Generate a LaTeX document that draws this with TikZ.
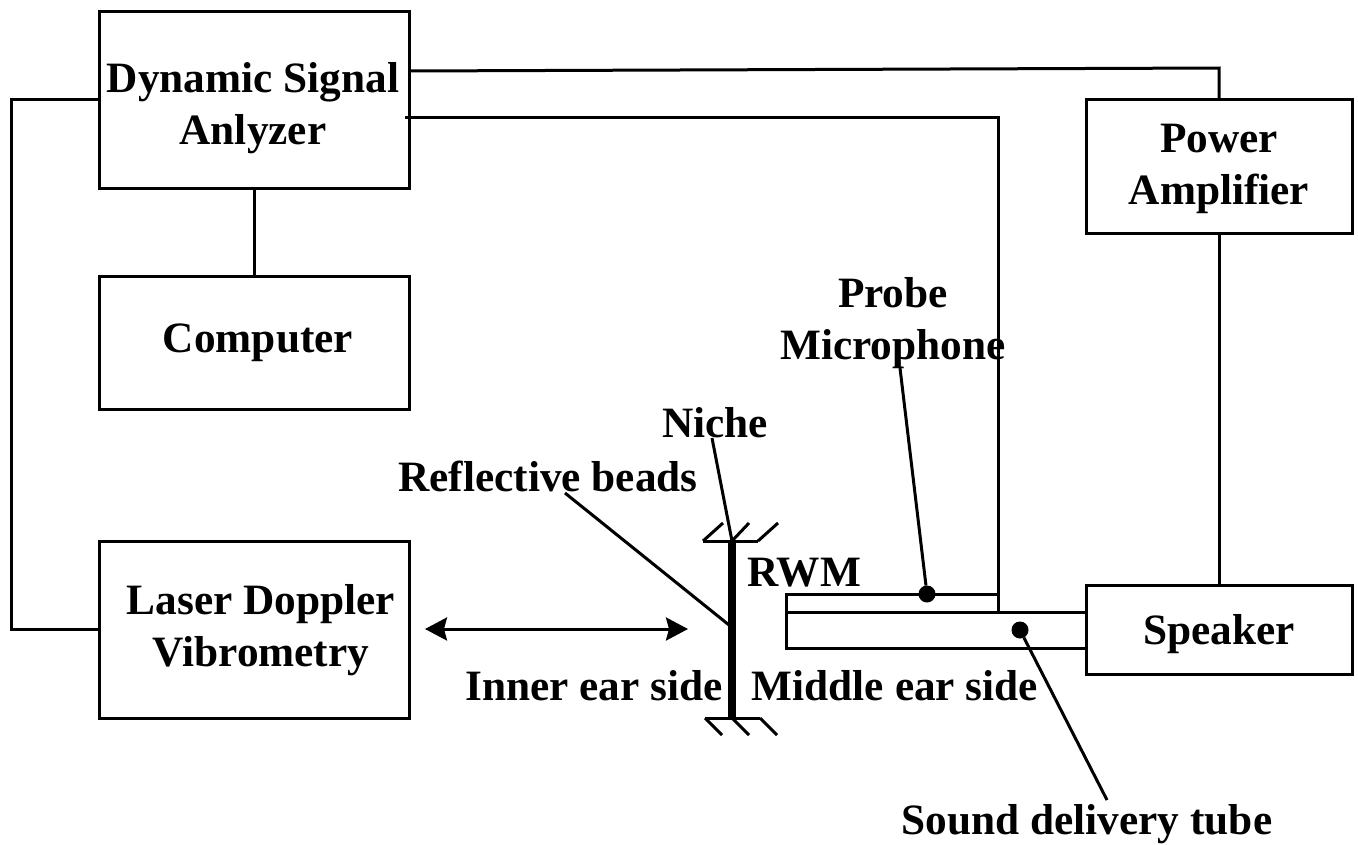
\documentclass[tikz,border=0pt]{standalone}
\usepackage{fontspec}
\setmainfont{Liberation Serif}
\usepackage{xcolor}
\usepackage{tikz}
\usetikzlibrary{arrows.meta}
\tikzset{
  devicebox/.style={draw, line width=3pt, anchor=north west, inner sep=0pt, outer sep=0pt},
  wire/.style={line width=3pt},
  lbl/.style={font=\bfseries\fontsize{43.3}{52}\selectfont, align=center, inner sep=0pt},
  dotmark/.style={circle, fill=black, minimum size=17pt, inner sep=0pt, outer sep=0pt}
}
\begin{document}
\begin{tikzpicture}[x=1pt,y=-1pt]
    \useasboundingbox (0,0) rectangle (1358,844);
    \node[devicebox, minimum width=310pt, minimum height=177pt] (analyzer) at (99,11) {};
    \node[devicebox, minimum width=310pt, minimum height=133pt] (computer) at (99,276) {};
    \node[devicebox, minimum width=310pt, minimum height=177pt] (vibrometer) at (99,541) {};
    \node[devicebox, minimum width=266pt, minimum height=134pt] (amplifier) at (1086,99) {};
    \node[devicebox, minimum width=266pt, minimum height=89pt] (speaker) at (1086,585) {};
    \node[devicebox, minimum width=212pt, minimum height=18pt] (probetube) at (786,594) {};
    \node[devicebox, minimum width=300pt, minimum height=36pt] (soundtube) at (786,612) {};
    \node[lbl] (analyzertext) at (253,108) {Dynamic Signal\\Anlyzer};
    \node[lbl] (computertext) at (258,343) {Computer};
    \node[lbl] (vibrometertext) at (261,630) {Laser Doppler\\Vibrometry};
    \node[lbl] (amplifiertext) at (1219,169) {Power\\Amplifier};
    \node[lbl] (speakertext) at (1219,634) {Speaker};
    \node[lbl] (probetext) at (893,323) {Probe\\Microphone};
    \node[lbl] (nichetext) at (715,423) {Niche};
    \node[lbl] (beadstext) at (548,476) {Reflective beads};
    \node[lbl] (rwmtext) at (804,573) {RWM};
    \node[lbl] (innertext) at (594,686) {Inner ear side};
    \node[lbl] (middletext) at (895,686) {Middle ear side};
    \node[lbl] (tubetext) at (1087,824) {Sound delivery tube};
    % wires between the boxes
    \coordinate (analyzerout) at (409,71);
    \coordinate (amplifierin) at (1219,68);
    \coordinate (analyzerin) at (405,117);
    \coordinate (probein) at (998,117);
    \draw[wire] (analyzer.south) -- (computer.north);
    \draw[wire] (analyzer.west) -- ++(-88,0) |- (vibrometer.west);
    \draw[wire] (analyzerout) -- (amplifierin) -- (amplifier.north);
    \draw[wire] (analyzerin) -- (probein) -- (probetube.south east);
    \draw[wire] (amplifier.south) -- (speaker.north);
    % membrane and niche
    \coordinate (rwmtop) at (732,541);
    \coordinate (rwmbot) at (732,718);
    \draw[line width=8pt] (rwmtop) -- (rwmbot);
    \draw[wire] (703,541) -- (758,541);
    \draw[wire] (705,718) -- (760,718);
    \foreach \xa/\xb in {703/723,732/749,758/778} {
      \draw[wire] (\xa,541) -- (\xb,523);
    }
    \foreach \xa/\xb in {705/722,732/749,760/777} {
      \draw[wire] (\xa,718) -- (\xb,735);
    }
    % arrow
    \coordinate (arrowleft) at (425,629);
    \coordinate (arrowright) at (688,629);
    \draw[wire, {Stealth[length=22pt,width=23pt,inset=3pt]}-{Stealth[length=22pt,width=23pt,inset=3pt]}] (arrowleft) -- (arrowright);
    % pointers
    \node[dotmark] (probedot) at (927,594) {};
    \node[dotmark] (tubedot) at (1020,630) {};
    \coordinate (probefrom) at (900,368);
    \coordinate (nichefrom) at (712,438);
    \coordinate (beadsfrom) at (565,493);
    \coordinate (beadsto) at (729,625);
    \coordinate (tubeto) at (1107,800);
    \draw[wire] (probefrom) -- (probedot);
    \draw[wire] (nichefrom) -- (rwmtop);
    \draw[wire] (beadsfrom) -- (beadsto);
    \draw[wire] (tubedot) -- (tubeto);
  \end{tikzpicture}
\end{document}
